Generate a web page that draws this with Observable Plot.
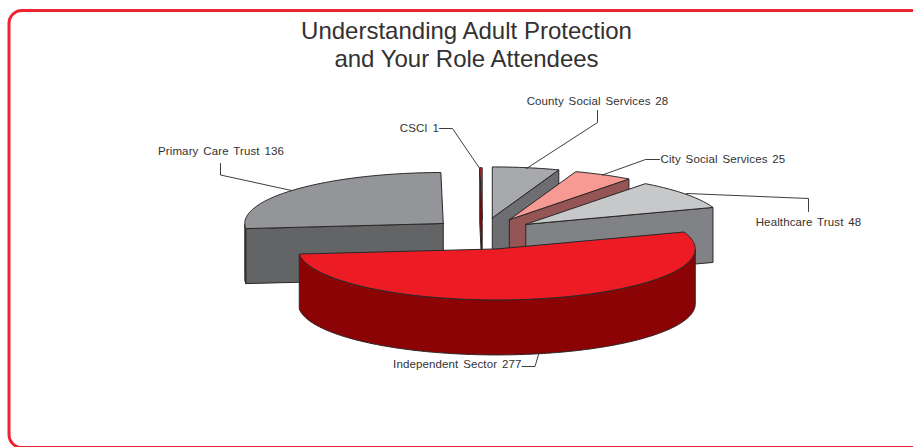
<!DOCTYPE html>
<html>
<head>
<meta charset="utf-8">
<style>html,body{margin:0;padding:0;background:#fff;overflow:hidden}svg{display:block}
g[font-size="11.5"] text{letter-spacing:.12px;word-spacing:1.5px}</style>
<script src="https://cdn.jsdelivr.net/npm/d3@7"></script>
<script src="https://cdn.jsdelivr.net/npm/@observablehq/plot@0.6"></script>
</head>
<body>
<div id="chart"></div>
<script>
// Data, clockwise from the top of the pie
const categories = ["CSCI","County Social Services","City Social Services","Healthcare Trust","Independent Sector","Primary Care Trust"];
const values = [1,28,25,48,277,136];
const titleLines = ["Understanding Adult Protection","and Your Role Attendees"];

// Point explosion of every slice (fraction of the radius)
const explosion = [0.27,0.29,0.285,0.27,0.33,0.265];
const topColors = ["#ed1c24","#a7a9ac","#f69a93","#c7c8ca","#ed1c24","#939598"];
const sideColors = ["#8b0304","#6d6e71","#955555","#808285","#8b0304","#636466"];

// Label placement: text anchor, and leader polyline (from label to slice)
const labelPlace = [
  {x:438.5,y:128,anchor:"end",leader:[[439,128],[452,128],[478.5,167]]},
  {x:597,y:100.5,anchor:"middle",leader:[[597,110],[597,122],[526,168]]},
  {x:660,y:159,anchor:"start",leader:[[659,159],[645,159],[602,174.5]]},
  {x:808,y:222,anchor:"middle",leader:[[808,211],[808,198],[686,193]]},
  {x:521,y:364,anchor:"end",leader:[[521.5,366],[534.5,366],[538,354]]},
  {x:220.5,y:151,anchor:"middle",leader:[[220,163],[220,174.5],[291,190]]}
];

const W = 913, H = 447;
const cx = 482, cy = 232, rx = 198.5, ry = 51, depth = 55;
const ink = "#2a2727", textInk = "#333132", frame = "#ee2330";
const font = "Liberation Sans, Arial, sans-serif";

const startAngle = -2 * Math.PI / d3.sum(values);
const arcs = d3.pie().sort(null).startAngle(startAngle).endAngle(startAngle + 2 * Math.PI)(values);

const slices = arcs.map((a, i) => {
  const mid = (a.startAngle + a.endAngle) / 2, e = explosion[i];
  const ax = cx + e * rx * Math.sin(mid), ay = cy - e * ry * Math.cos(mid);
  const pt = t => ({x: ax + rx * Math.sin(t), y: ay - ry * Math.cos(t)});
  const samples = Math.max(2, Math.ceil((a.endAngle - a.startAngle) / (Math.PI / 180)));
  const rim = d3.range(samples + 1).map(k => a.startAngle + (a.endAngle - a.startAngle) * k / samples);
  const drop = p => ({x: p.x, y: p.y + depth});
  const apex = {x: ax, y: ay};
  const faces = [];
  const norm = t => ((t % (2 * Math.PI)) + 2 * Math.PI) % (2 * Math.PI);
  // cut face seen from the viewer
  if (norm(a.startAngle) > Math.PI) {
    const p = pt(a.startAngle);
    faces.push({color: sideColors[i], points: [apex, p, drop(p), drop(apex), apex]});
  }
  if (norm(a.endAngle) > 1e-6 && norm(a.endAngle) < Math.PI) {
    const p = pt(a.endAngle);
    faces.push({color: sideColors[i], points: [apex, p, drop(p), drop(apex), apex]});
  }
  // outer wall: the part of the rim facing the viewer
  const front = rim.filter(t => { const n = norm(t); return n >= Math.PI / 2 && n <= 3 * Math.PI / 2; }).map(pt);
  if (front.length > 1) {
    faces.push({color: sideColors[i], points: [...front, ...front.slice().reverse().map(drop), front[0]]});
  }
  faces.push({color: topColors[i], points: [apex, ...rim.map(pt), apex]});
  return faces;
});

// back to front: Primary Care Trust first, then clockwise
const drawn = [slices[5], slices[0], slices[1], slices[2], slices[3], slices[4]].flat();

const leaders = labelPlace.map(l => l.leader.map(([x, y]) => ({x, y})));
const labels = categories.map((c, i) => ({text: `${c} ${values[i]}`, ...labelPlace[i]}));

const chart = Plot.plot({
  width: W, height: H,
  margin: 0,
  x: {domain: [0, W], range: [0, W], axis: null},
  y: {domain: [0, H], range: [0, H], axis: null},
  style: {background: "#fff"},
  marks: [
    Plot.rect([{x1: 9, x2: 940, y1: 10.5, y2: 447.5}], {x1: "x1", x2: "x2", y1: "y1", y2: "y2", fill: "none", stroke: frame, strokeWidth: 3, rx: 13, inset: 0}),
    ...drawn.map(f => Plot.line(f.points, {x: "x", y: "y", fill: f.color, stroke: ink, strokeWidth: 1, strokeLinejoin: "round"})),
    ...leaders.map(pts => Plot.line(pts, {x: "x", y: "y", stroke: ink, strokeWidth: 0.9})),
    ...["start", "middle", "end"].map(anchor => Plot.text(labels.filter(l => l.anchor === anchor), {x: "x", y: "y", text: "text", textAnchor: anchor, fontFamily: font, fontSize: 11.5, fill: textInk})),
    Plot.text(titleLines.map((t, i) => ({t, y: 31 + i * 28})), {x: () => 466, y: "y", text: "t", textAnchor: "middle", fontFamily: font, fontSize: 24, fill: textInk})
  ]
});
document.getElementById("chart").append(chart);
</script>
</body>
</html>
